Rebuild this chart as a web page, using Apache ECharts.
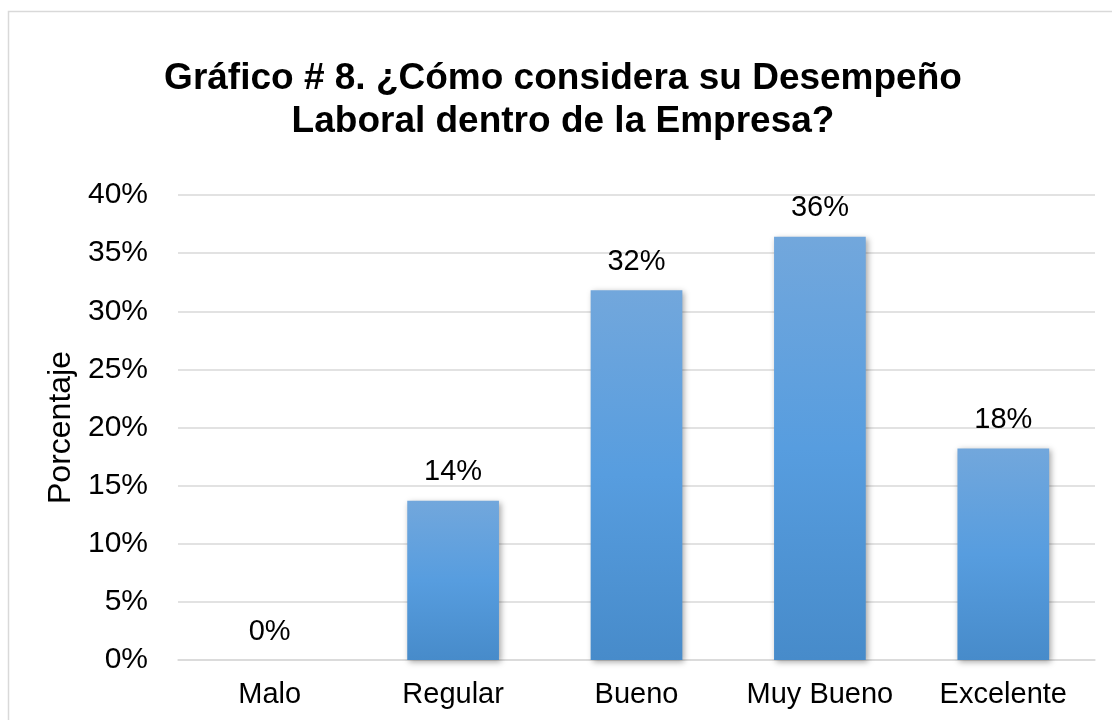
<!DOCTYPE html>
<html><head><meta charset="utf-8">
<script src="https://cdn.jsdelivr.net/npm/echarts@6/dist/echarts.min.js"></script>
<style>html,body{margin:0;padding:0;background:#fff}#c{width:1112px;height:720px}</style>
</head><body><div id="c"></div>
<script>
const categories = ['Malo', 'Regular', 'Bueno', 'Muy Bueno', 'Excelente'];
const values = [0, 13.7, 31.8, 36.4, 18.2];
const labelValues = [0, 14, 32, 36, 18];
const yTicks = [0, 5, 10, 15, 20, 25, 30, 35, 40];

const chart = echarts.init(document.getElementById('c'), null, {renderer: 'canvas'});
const font = '"Liberation Sans", Arial, sans-serif';
chart.setOption({
  animation: false,
  graphic: [{type: 'rect', shape: {x: 8.5, y: 11.5, width: 1200, height: 800}, style: {fill: 'none', stroke: '#d9d9d9', lineWidth: 1.5}}],
  title: {
    text: 'Gráfico # 8. ¿Cómo considera su Desempeño\nLaboral dentro de la Empresa?',
    left: 558, top: 52, textAlign: 'center',
    textStyle: {fontFamily: font, fontWeight: 'bold', fontSize: 37, color: '#000', lineHeight: 43}
  },
  grid: {left: 178, right: 17, top: 195, bottom: 60},
  xAxis: {
    type: 'category', data: categories,
    axisLine: {lineStyle: {color: '#d9d9d9', width: 1.5}},
    axisTick: {show: false},
    axisLabel: {interval: 0, fontFamily: font, fontSize: 29, color: '#000', margin: 20}
  },
  yAxis: {
    type: 'value', min: 0, max: 40, interval: 5,
    name: 'Porcentaje', nameLocation: 'middle', nameGap: 98,
    nameTextStyle: {fontFamily: font, fontSize: 32, color: '#000'},
    axisLabel: {fontFamily: font, fontSize: 30, color: '#000', margin: 30,
      formatter: v => yTicks.includes(v) ? v + '%' : ''},
    splitLine: {lineStyle: {color: '#d9d9d9', width: 1.5}},
    axisLine: {show: false}, axisTick: {show: false}
  },
  series: [{
    type: 'bar', data: values, barWidth: '50%',
    itemStyle: {
      color: new echarts.graphic.LinearGradient(0, 0, 0, 1, [
        {offset: 0, color: '#72a7dc'},
        {offset: 0.5, color: '#579ddf'},
        {offset: 1, color: '#478bca'}
      ]),
      shadowColor: 'rgba(0,0,0,0.35)', shadowBlur: 6, shadowOffsetX: 2, shadowOffsetY: 2
    },
    label: {
      show: true, position: 'top', distance: 14,
      fontFamily: font, fontSize: 29, color: '#000',
      formatter: p => labelValues[p.dataIndex] + '%'
    }
  }]
});
</script></body></html>
